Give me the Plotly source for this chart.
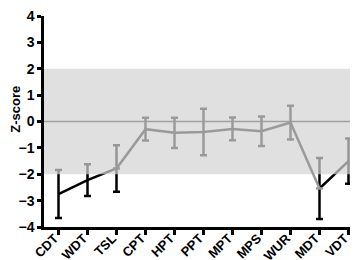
import plotly.graph_objects as go

categories = ["CDT", "WDT", "TSL", "CPT", "HPT", "PPT", "MPT", "MPS", "WUR", "MDT", "VDT"]
# mean z-scores and SD (error) per test
zscore = [-2.75, -2.22, -1.78, -0.29, -0.43, -0.40, -0.28, -0.37, -0.04, -2.54, -1.50]
sd =     [0.91, 0.60, 0.88, 0.43, 0.57, 0.88, 0.43, 0.56, 0.64, 1.16, 0.86]
# membership of the two drawn series
black_members = ["CDT", "WDT", "TSL", None, None, None, None, None, None, "MDT", "VDT"]
grey_members = [None, None, "TSL", "CPT", "HPT", "PPT", "MPT", "MPS", "WUR", "MDT", None]
grey_err_members = ["CPT", "HPT", "PPT", "MPT", "MPS", "WUR"]
normal_band = [-2, 2]
y_ticks = [-4, -3, -2, -1, 0, 1, 2, 3, 4]
y_title = "Z-score"

xs = list(range(len(categories)))
x_range = [-0.5, len(categories) - 0.5]

black_y = [z if m else None for z, m in zip(zscore, black_members)]
black_e = [s if m else None for s, m in zip(sd, black_members)]
grey_y = [z if m else None for z, m in zip(zscore, grey_members)]
grey_e = [s if c in grey_err_members else None for s, c in zip(sd, categories)]

GREY = "#9a9a9a"
fig = go.Figure()

# abnormal series (black)
fig.add_trace(go.Scatter(
    x=xs, y=black_y, mode="lines", connectgaps=False,
    line=dict(color="black", width=2.5),
    error_y=dict(type="data", array=black_e, visible=True, color="black", thickness=2.5, width=3.5),
    showlegend=False, hoverinfo="skip"))

# normal-range band (semi-transparent, shades what lies under it)
fig.add_trace(go.Scatter(
    x=[x_range[0], x_range[1], x_range[1], x_range[0], x_range[0]],
    y=[normal_band[0], normal_band[0], normal_band[1], normal_band[1], normal_band[0]],
    mode="lines", fill="toself", fillcolor="rgba(211,211,211,0.71)",
    line=dict(width=0), showlegend=False, hoverinfo="skip"))

# zero reference line
fig.add_trace(go.Scatter(
    x=x_range, y=[0, 0], mode="lines", line=dict(color="#a0a0a0", width=1.3),
    showlegend=False, hoverinfo="skip"))

# normal series (grey)
fig.add_trace(go.Scatter(
    x=xs, y=grey_y, mode="lines", connectgaps=False,
    line=dict(color=GREY, width=2.5),
    error_y=dict(type="data", array=grey_e, visible=True, color=GREY, thickness=2.5, width=3.5),
    showlegend=False, hoverinfo="skip"))

fig.add_annotation(
    text=y_title, textangle=-90, xref="paper", yref="paper",
    x=-0.088, y=0.56, xanchor="center", yanchor="middle", showarrow=False,
    font=dict(size=13, weight="bold", color="black"))

fig.update_layout(
    width=358, height=260,
    margin=dict(l=36, r=3, t=8, b=41),
    paper_bgcolor="white", plot_bgcolor="white",
    font=dict(family="Liberation Sans, Arial, sans-serif", color="black"),
    xaxis=dict(
        range=x_range, tickmode="array", tickvals=xs, ticktext=categories,
        tickangle=-45, showgrid=False, zeroline=False, automargin=False,
        showline=True, linecolor="black", linewidth=2.5,
        ticks="outside", ticklen=5, tickwidth=2.5, tickcolor="black",
        ticklabelstandoff=-9, ticklabelshift=-4, ticklabeloverflow="allow",
        tickfont=dict(size=13, weight="bold", color="black")),
    yaxis=dict(
        range=[-4, 4], tickmode="array", tickvals=y_ticks, automargin=False,
        showgrid=False, zeroline=False, ticklabeloverflow="allow",
        showline=True, linecolor="black", linewidth=2.5,
        ticks="outside", ticklen=4, tickwidth=2.5, tickcolor="black",
        tickfont=dict(size=14, weight="bold", color="black")),
)

fig.write_html("out.html")
